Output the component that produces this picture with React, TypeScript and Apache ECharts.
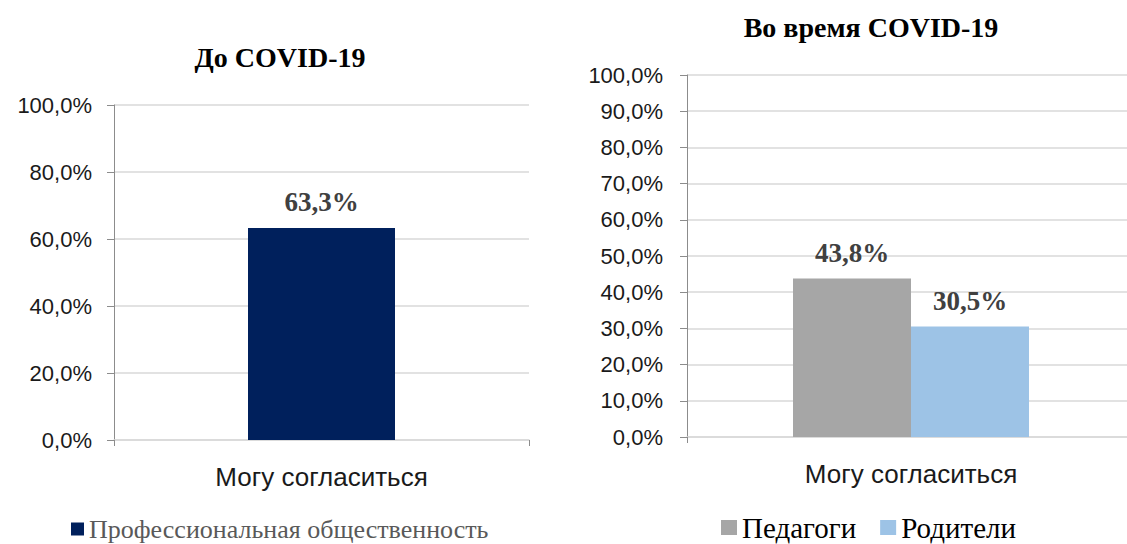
import React, { useEffect, useRef } from "react";
import * as echarts from "echarts";

const categories = ["Могу согласиться"];
const beforeName = "Профессиональная общественность";
const beforeValues = [63.3];
const teachersName = "Педагоги";
const teachersValues = [43.8];
const parentsName = "Родители";
const parentsValues = [30.5];
const leftTitle = "До COVID-19";
const rightTitle = "Во время COVID-19";

const fmt = (v: number) => v.toFixed(1).replace(".", ",") + "%";

export default function App() {
  const ref = useRef<HTMLDivElement>(null);
  useEffect(() => {
    document.body.style.margin = "0";
    document.body.style.overflow = "hidden";
    const chart = echarts.init(ref.current!, null, { renderer: "svg" });
    const sans = "Liberation Sans";
    const serif = "Liberation Serif";
    const valueAxis = (gi: number, interval: number, margin: number) => ({
      type: "value",
      gridIndex: gi,
      min: 0,
      max: 100,
      interval,
      axisLine: { show: true, lineStyle: { color: "#8c8c8c", width: 1 } },
      axisTick: { show: true, length: 7, lineStyle: { color: "#8c8c8c" } },
      splitLine: { show: true, lineStyle: { color: "#d9d9d9", width: 1.5 } },
      axisLabel: {
        formatter: (v: number) => fmt(v),
        fontFamily: sans,
        fontSize: 22,
        color: "#1a1a1a",
        margin,
      },
    });
    const catAxis = (gi: number) => ({
      type: "category",
      gridIndex: gi,
      data: categories,
      axisLine: { show: true, lineStyle: { color: "#d9d9d9", width: 1.5 } },
      axisTick: { show: true, length: 6, lineStyle: { color: "#8c8c8c" } },
      axisLabel: { fontFamily: sans, fontSize: 26, color: "#1a1a1a", margin: 24 },
    });
    const label = {
      show: true,
      position: "top",
      distance: 12,
      formatter: (p: any) => fmt(p.value),
      fontFamily: serif,
      fontWeight: "bold",
      fontSize: 27,
      color: "#404040",
    };
    chart.setOption({
      animation: false,
      title: [
        {
          text: leftTitle,
          left: 275,
          top: 38,
          textAlign: "center",
          textStyle: { fontFamily: serif, fontWeight: "bold", fontSize: 28, color: "#000" },
        },
        {
          text: rightTitle,
          left: 866,
          top: 8,
          textAlign: "center",
          textStyle: { fontFamily: serif, fontWeight: "bold", fontSize: 28, color: "#000" },
        },
      ],
      legend: [
        {
          data: [beforeName],
          left: 66,
          top: 511,
          itemWidth: 13,
          itemHeight: 13,
          icon: "rect",
          itemGap: 30,
          textStyle: { fontFamily: serif, fontSize: 26, color: "#595959" },
        },
        {
          data: [teachersName, parentsName],
          left: 716,
          top: 508,
          itemWidth: 16,
          itemHeight: 15,
          icon: "rect",
          itemGap: 24,
          textStyle: { fontFamily: serif, fontSize: 29, color: "#000" },
        },
      ],
      grid: [
        { left: 114, top: 105, width: 415, height: 335 },
        { left: 687, top: 75, width: 448, height: 362 },
      ],
      xAxis: [catAxis(0), catAxis(1)],
      yAxis: [valueAxis(0, 20, 22), valueAxis(1, 10, 24)],
      series: [
        {
          name: beforeName,
          type: "bar",
          xAxisIndex: 0,
          yAxisIndex: 0,
          data: beforeValues,
          barWidth: 147,
          itemStyle: { color: "#00205c" },
          label,
        },
        {
          name: teachersName,
          type: "bar",
          xAxisIndex: 1,
          yAxisIndex: 1,
          data: teachersValues,
          barWidth: 118,
          barGap: "0%",
          itemStyle: { color: "#a6a6a6" },
          label,
        },
        {
          name: parentsName,
          type: "bar",
          xAxisIndex: 1,
          yAxisIndex: 1,
          data: parentsValues,
          barWidth: 118,
          barGap: "0%",
          itemStyle: { color: "#9dc3e6" },
          label,
        },
      ],
    });
    return () => chart.dispose();
  }, []);
  return <div ref={ref} style={{ width: 1145, height: 544 }} />;
}
